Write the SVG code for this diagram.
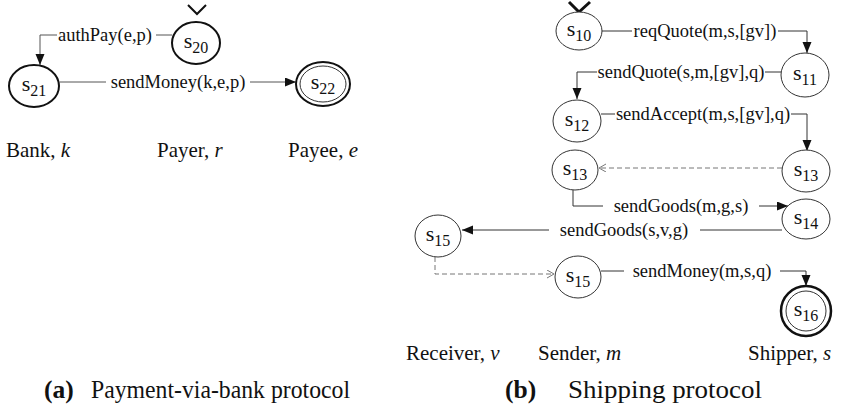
<svg xmlns="http://www.w3.org/2000/svg" width="842" height="413" viewBox="0 0 842 413">
  <style>
    text { font-family: "Liberation Serif", "Times New Roman", serif; fill: #111; }
    .lbl { font-size: 18.5px; text-anchor: middle; }
    .st { font-size: 22px; text-anchor: middle; }
    .sub { font-size: 16px; }
    .role { font-size: 21px; }
    .cap { font-size: 25.5px; }
    .nodeA { fill: #fff; stroke: #111; stroke-width: 2; }
    .nodeB { fill: #fff; stroke: #333; stroke-width: 1; }
    .edge { fill: none; stroke: #333; stroke-width: 1; }
    .edgeA { fill: none; stroke: #555; stroke-width: 1; }
    .dash { fill: none; stroke: #777; stroke-width: 1; stroke-dasharray: 5 3; }
    .init { fill: none; stroke: #111; stroke-width: 2; }
    .initB { fill: none; stroke: #111; stroke-width: 3; }
  </style>
  <defs>
    <marker id="arrow" markerUnits="userSpaceOnUse" markerWidth="12" markerHeight="10" refX="11" refY="4.5" orient="auto">
      <path d="M0,0 L11,4.5 L0,9 z" fill="#111"/>
    </marker>
    <marker id="open" markerUnits="userSpaceOnUse" markerWidth="10" markerHeight="10" refX="7" refY="4" orient="auto">
      <path d="M0,0 L7,4 L0,8" fill="none" stroke="#777" stroke-width="1"/>
    </marker>
  </defs>

  <!-- (a) Payment-via-bank protocol -->
  <g id="connectors-a">
    <line class="edgeA" x1="172" y1="35" x2="156" y2="35"/>
    <polyline class="edgeA" points="57,35 40,35 40,65" marker-end="url(#arrow)"/>
    <text class="lbl" x="105" y="41">authPay(e,p)</text>
    <line class="edgeA" x1="60" y1="82" x2="106" y2="82"/>
    <line class="edgeA" x1="250" y1="82" x2="296" y2="82" marker-end="url(#arrow)"/>
    <text class="lbl" x="178" y="88">sendMoney(k,e,p)</text>
  </g>
  <g id="s20">
    <polyline class="init" points="188,5 197,14 206,5"/>
    <ellipse class="nodeA" cx="196" cy="43" rx="24" ry="21"/>
    <text class="st" x="196" y="48">s<tspan class="sub" dy="5">20</tspan></text>
  </g>
  <g id="s21">
    <ellipse class="nodeA" cx="34" cy="86" rx="25" ry="21"/>
    <text class="st" x="34" y="91">s<tspan class="sub" dy="5">21</tspan></text>
  </g>
  <g id="s22">
    <ellipse class="nodeA" cx="323" cy="84" rx="27" ry="22"/>
    <ellipse fill="none" stroke="#333" stroke-width="1" cx="323" cy="84" rx="23" ry="18"/>
    <text class="st" x="323" y="89">s<tspan class="sub" dy="5">22</tspan></text>
  </g>
  <g id="roles-a">
    <text class="role" x="6" y="157">Bank, <tspan font-style="italic">k</tspan></text>
    <text class="role" x="157" y="157">Payer, <tspan font-style="italic">r</tspan></text>
    <text class="role" x="288" y="157">Payee, <tspan font-style="italic">e</tspan></text>
  </g>
  <text class="cap" y="398"><tspan x="44" font-weight="bold">(a)</tspan><tspan x="91" textLength="259" lengthAdjust="spacingAndGlyphs">Payment-via-bank protocol</tspan></text>

  <!-- (b) Shipping protocol -->
  <g id="connectors-b">
    <line class="edge" x1="601" y1="31" x2="632" y2="31"/>
    <polyline class="edge" points="778,31 807,31 807,53" marker-end="url(#arrow)"/>
    <text class="lbl" x="705" y="37">reqQuote(m,s,[gv])</text>

    <line class="edge" x1="781" y1="72" x2="765" y2="72"/>
    <polyline class="edge" points="597,72 577,72 577,99" marker-end="url(#arrow)"/>
    <text class="lbl" x="681" y="78">sendQuote(s,m,[gv],q)</text>

    <line class="edge" x1="601" y1="114" x2="615" y2="114"/>
    <polyline class="edge" points="791,114 807,114 807,151" marker-end="url(#arrow)"/>
    <text class="lbl" x="703" y="120">sendAccept(m,s,[gv],q)</text>

    <line class="dash" x1="782" y1="168" x2="599" y2="168" marker-end="url(#open)"/>

    <polyline class="edge" points="573,190 573,206 603,206"/>
    <line class="edge" x1="759" y1="206" x2="788" y2="206" marker-end="url(#arrow)"/>
    <text class="lbl" x="681" y="212">sendGoods(m,g,s)</text>

    <line class="edge" x1="782" y1="230" x2="700" y2="230"/>
    <line class="edge" x1="549" y1="230" x2="462" y2="230" marker-end="url(#arrow)"/>
    <text class="lbl" x="624" y="236">sendGoods(s,v,g)</text>

    <polyline class="dash" points="435,257 435,274 554,274" marker-end="url(#open)"/>

    <line class="edge" x1="601" y1="271" x2="624" y2="271"/>
    <polyline class="edge" points="780,271 806,271 806,286" marker-end="url(#arrow)"/>
    <text class="lbl" x="702" y="277">sendMoney(m,s,q)</text>
  </g>
  <g id="s10">
    <polyline class="initB" points="569,2 579,12 590,2"/>
    <ellipse class="nodeB" cx="579" cy="31" rx="23" ry="19"/>
    <text class="st" x="579" y="36">s<tspan class="sub" dy="5">10</tspan></text>
  </g>
  <g id="s11">
    <ellipse class="nodeB" cx="805" cy="75" rx="24" ry="22"/>
    <text class="st" x="805" y="80">s<tspan class="sub" dy="5">11</tspan></text>
  </g>
  <g id="s12">
    <ellipse class="nodeB" cx="577" cy="121" rx="24" ry="21"/>
    <text class="st" x="577" y="126">s<tspan class="sub" dy="5">12</tspan></text>
  </g>
  <g id="s13-shipper">
    <ellipse class="nodeB" cx="806" cy="171" rx="24" ry="21"/>
    <text class="st" x="806" y="176">s<tspan class="sub" dy="5">13</tspan></text>
  </g>
  <g id="s13-sender">
    <ellipse class="nodeB" cx="575" cy="170" rx="23" ry="20"/>
    <text class="st" x="575" y="175">s<tspan class="sub" dy="5">13</tspan></text>
  </g>
  <g id="s14">
    <ellipse class="nodeB" cx="806" cy="219" rx="24" ry="20"/>
    <text class="st" x="806" y="224">s<tspan class="sub" dy="5">14</tspan></text>
  </g>
  <g id="s15-receiver">
    <ellipse class="nodeB" cx="438" cy="236" rx="23" ry="21"/>
    <text class="st" x="438" y="241">s<tspan class="sub" dy="5">15</tspan></text>
  </g>
  <g id="s15-sender">
    <ellipse class="nodeB" cx="578" cy="277" rx="23" ry="21"/>
    <text class="st" x="578" y="282">s<tspan class="sub" dy="5">15</tspan></text>
  </g>
  <g id="s16">
    <ellipse fill="#fff" stroke="#111" stroke-width="2.5" cx="806" cy="311" rx="25" ry="25"/>
    <ellipse fill="none" stroke="#333" stroke-width="1" cx="806" cy="311" rx="20" ry="20"/>
    <text class="st" x="806" y="316">s<tspan class="sub" dy="5">16</tspan></text>
  </g>
  <g id="roles-b">
    <text class="role" x="406" y="360">Receiver, <tspan font-style="italic">v</tspan></text>
    <text class="role" x="538" y="360">Sender, <tspan font-style="italic">m</tspan></text>
    <text class="role" x="748" y="360">Shipper, <tspan font-style="italic">s</tspan></text>
  </g>
  <text class="cap" y="398"><tspan x="505" font-weight="bold">(b)</tspan><tspan x="568" textLength="194" lengthAdjust="spacingAndGlyphs">Shipping protocol</tspan></text>
</svg>
